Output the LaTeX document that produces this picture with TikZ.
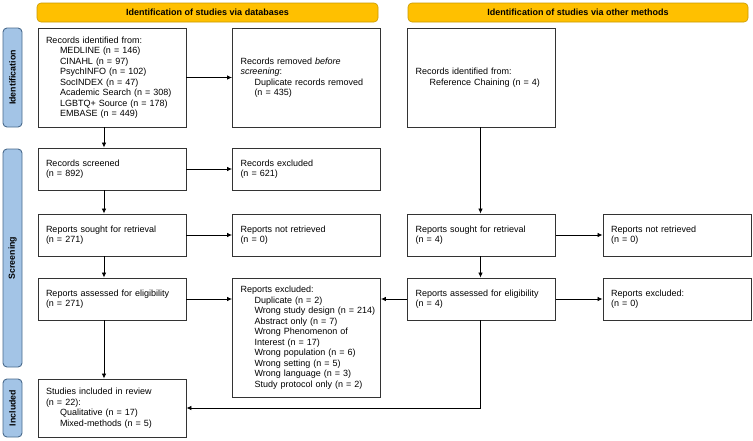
\documentclass[tikz,border=0pt]{standalone}
\usepackage{fontspec}
\setmainfont{Liberation Sans}
\usetikzlibrary{arrows.meta}
\definecolor{bannerfill}{HTML}{FFC000}
\definecolor{bannerdraw}{HTML}{C99A00}
\definecolor{sidefill}{HTML}{A3C4E6}
\definecolor{sidedraw}{HTML}{4A6A8C}
\definecolor{boxdraw}{HTML}{333333}
\newcommand{\ind}{\hspace*{14pt}}
\tikzset{
  box/.style={draw=boxdraw, line width=0.9pt, text width=132pt, inner xsep=8pt, inner ysep=0pt,
    align=left, font=\fontsize{9}{10.5}\selectfont, anchor=center},
  banner/.style={draw=bannerdraw, fill=bannerfill, line width=0.6pt, rounded corners=4pt,
    minimum height=19pt, inner sep=0pt, font=\fontsize{9}{10.5}\selectfont\bfseries, anchor=center},
  sidebar/.style={draw=sidedraw, fill=sidefill, line width=0.9pt, rounded corners=4pt,
    rotate=90, minimum height=19pt, inner sep=0pt, font=\fontsize{8.8}{10}\selectfont\bfseries, anchor=center},
  arr/.style={draw=black, line width=0.8pt, -{Latex[length=5pt,width=4.5pt]}},
  ln/.style={draw=black, line width=0.8pt}
}
\begin{document}
\begin{tikzpicture}[x=1pt,y=-1pt]
\useasboundingbox (0,0) rectangle (753,440);
% banners
\node[banner, minimum width=341pt] (b1) at (207.5,12.5) {Identification of studies via databases};
\node[banner, minimum width=340pt] (b2) at (578,12.5) {Identification of studies via other methods};
% side bars
\node[sidebar, minimum width=99pt] (s1) at (12.5,77.5) {Identification};
\node[sidebar, minimum width=218pt] (s2) at (12.5,258) {Screening};
\node[sidebar, minimum width=58pt] (s3) at (12.5,408) {Included};
% column coordinates for vertical arrows
\coordinate (lx) at (104,0);
\coordinate (rx) at (480.5,0);
% row 1
\node[box, minimum height=99pt] (A) at (112,77.5) {Records identified from:\\
\ind MEDLINE (n = 146)\\
\ind CINAHL (n = 97)\\
\ind PsychINFO (n = 102)\\
\ind SocINDEX (n = 47)\\
\ind Academic Search (n = 308)\\
\ind LGBTQ+ Source (n = 178)\\
\ind EMBASE (n = 449)};
\node[box, minimum height=99pt] (B) at (306.5,77.5) {Records removed \textit{before}\\
\textit{screening}:\\
\ind Duplicate records removed\\
\ind (n = 435)};
\node[box, minimum height=99pt] (C) at (481.5,77.5) {Records identified from:\\
\ind Reference Chaining (n = 4)\\[6pt]};
% row 2
\node[box, minimum height=42pt] (scr) at (112,169) {Records screened\\(n = 892)};
\node[box, minimum height=42pt] (exc) at (306.5,169) {Records excluded\\(n = 621)};
% row 3
\node[box, minimum height=42pt] (sl) at (112,235) {Reports sought for retrieval\\(n = 271)};
\node[box, minimum height=42pt] (nl) at (306.5,235) {Reports not retrieved\\(n = 0)};
\node[box, minimum height=42pt] (sr) at (481.5,235) {Reports sought for retrieval\\(n = 4)};
\node[box, minimum height=42pt] (nr) at (677,235) {Reports not retrieved\\(n = 0)};
% row 4
\node[box, minimum height=42pt] (al) at (112,299) {\mbox{Reports assessed for eligibility}\\(n = 271)};
\node[box, minimum height=119pt] (el) at (306.5,337.5) {Reports excluded:\\
\ind Duplicate (n = 2)\\
\ind\mbox{Wrong study design (n = 214)}\\
\ind Abstract only (n = 7)\\
\ind Wrong Phenomenon of\\
\ind Interest (n = 17)\\
\ind Wrong population (n = 6)\\
\ind Wrong setting (n = 5)\\
\ind Wrong language (n = 3)\\
\ind\mbox{Study protocol only (n = 2)}};
\node[box, minimum height=42pt] (ar) at (481.5,299) {\mbox{Reports assessed for eligibility}\\(n = 4)};
\node[box, minimum height=42pt] (er) at (677,299) {Reports excluded:\\(n = 0)};
% row 5
\node[box, minimum height=58pt] (inc) at (112,408) {Studies included in review\\(n = 22):\\
\ind Qualitative (n = 17)\\
\ind Mixed-methods (n = 5)};
% connectors
\draw[arr] (A.east) -- (B.west);
\draw[arr] (A.south -| lx) -- (scr.north -| lx);
\draw[arr] (scr.east) -- (exc.west);
\draw[arr] (scr.south -| lx) -- (sl.north -| lx);
\draw[arr] (sl.east) -- (nl.west);
\draw[arr] (sl.south -| lx) -- (al.north -| lx);
\draw[arr] (al.east) -- (el.west |- al.east);
\draw[arr] (al.south -| lx) -- (inc.north -| lx);
\draw[arr] (C.south -| rx) -- (sr.north -| rx);
\draw[arr] (sr.east) -- (nr.west);
\draw[arr] (sr.south -| rx) -- (ar.north -| rx);
\draw[arr] (ar.west) -- (el.east |- ar.west);
\draw[arr] (ar.east) -- (er.west);
\draw[arr] (ar.south -| rx) |- (inc.east);
\end{tikzpicture}
\end{document}
